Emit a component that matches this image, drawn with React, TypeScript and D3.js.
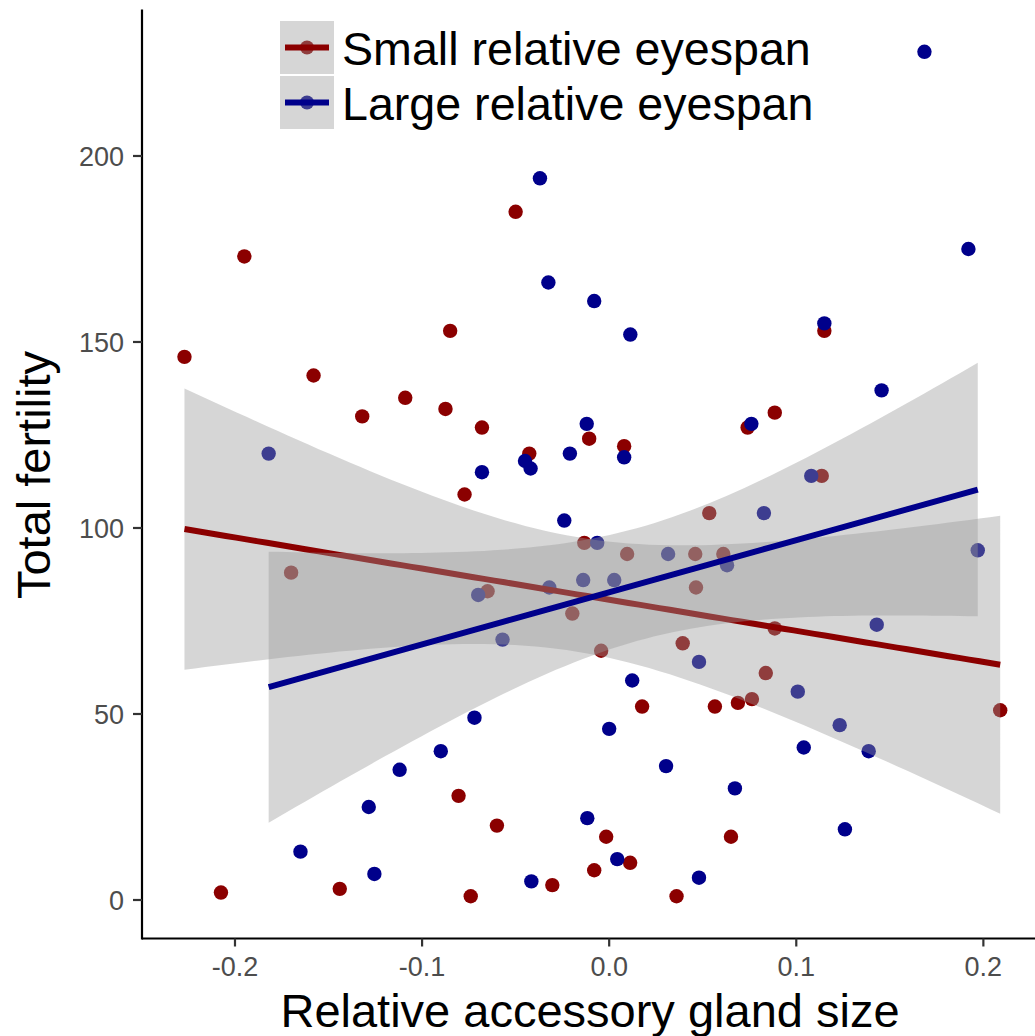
import React from 'react'
import * as d3 from 'd3'

// group labels and colours
const groups = ['Small relative eyespan', 'Large relative eyespan']
const colors = ['#8B0000', '#00008B']

// Small relative eyespan: gland size, fertility
const smallX = [-0.227, -0.195, -0.158, -0.132, -0.109, -0.0875, -0.085, -0.068, -0.05, -0.0427,
  -0.0107, 0.008, 0.115, 0.0885, 0.074, 0.1136, -0.0773, -0.0133, -0.17, -0.065,
  -0.0197, -0.0805, -0.06, -0.2075, -0.144, -0.074, -0.0304, -0.008, 0.0096, 0.046,
  0.061, 0.0535, 0.0464, -0.0043, 0.0885, 0.0393, 0.0837, 0.0176, 0.0565, 0.0688,
  0.0763, 0.209, -0.0016, 0.0651, 0.0112, 0.036]
const smallY = [146, 173, 141, 130, 135, 132, 153, 127, 185, 120,
  124, 122, 153, 131, 127, 114, 109, 96, 88, 83,
  77, 28, 20, 2, 3, 1, 4, 8, 93, 93,
  93, 104, 84, 67, 73, 69, 61, 52, 52, 53,
  54, 51, 17, 17, 10, 1]

// Large relative eyespan
const largeX = [-0.037, -0.0325, -0.008, -0.182, -0.045, -0.042, -0.068, -0.021, -0.012, 0.008,
  0.1685, 0.192, 0.0113, 0.115, 0.1456, 0.076, 0.108, -0.024, -0.07, -0.032,
  -0.0139, -0.057, -0.072, -0.09, -0.112, -0.1285, -0.165, -0.1255, -0.0416, -0.0117,
  -0.0064, 0.0315, 0.063, 0.0827, 0.0027, 0.197, 0.048, 0.143, 0.0123, 0.1008,
  0.0, 0.1232, 0.104, 0.1387, 0.0304, 0.0672, 0.126, 0.0043, 0.048]
const largeY = [194, 166, 161, 120, 118, 116, 115, 120, 128, 119,
  228, 175, 152, 155, 137, 128, 114, 102, 82, 84,
  86, 70, 49, 40, 35, 25, 13, 7, 5, 22,
  96, 93, 90, 104, 86, 94, 64, 74, 59, 56,
  46, 47, 41, 40, 36, 30, 19, 11, 6]

const xTicks = [-0.2, -0.1, 0, 0.1, 0.2]
const yTicks = [0, 50, 100, 150, 200]

const W = 1035
const H = 1036
const font = '"Liberation Sans", Arial, Helvetica, sans-serif'

// linear fit with 95% confidence band, like geom_smooth(method = "lm")
function lmFit(xs, ys) {
  const n = xs.length
  const mx = d3.mean(xs)
  const my = d3.mean(ys)
  let sxx = 0, sxy = 0
  xs.forEach((x, i) => { sxx += (x - mx) ** 2; sxy += (x - mx) * (ys[i] - my) })
  const b = sxy / sxx
  const a = my - b * mx
  const rss = d3.sum(xs, (x, i) => (ys[i] - a - b * x) ** 2)
  const s = Math.sqrt(rss / (n - 2))
  const t = 2.013
  const [lo, hi] = d3.extent(xs)
  return d3.range(80).map(k => {
    const x = lo + (hi - lo) * k / 79
    const fit = a + b * x
    const se = s * Math.sqrt(1 / n + (x - mx) ** 2 / sxx)
    return { x, fit, ymin: fit - t * se, ymax: fit + t * se }
  })
}

export default function App() {
  const x = d3.scaleLinear().domain([-0.2497, 0.2308]).range([142, 1041])
  const y = d3.scaleLinear().domain([-10.35, 239.35]).range([938.5, 9.6])

  const series = [
    { xs: smallX, ys: smallY },
    { xs: largeX, ys: largeY },
  ]
  const fits = series.map(s => lmFit(s.xs, s.ys))

  const area = d3.area().x(d => x(d.x)).y0(d => y(d.ymin)).y1(d => y(d.ymax))
  const line = d3.line().x(d => x(d.x)).y(d => y(d.fit))

  return (
    <svg width={W} height={H} style={{ position: 'absolute', left: 0, top: 0, background: '#fff' }}>
      {series.map((s, g) => s.xs.map((v, i) => (
        <circle key={`p${g}-${i}`} cx={x(v)} cy={y(s.ys[i])} r={7.2} fill={colors[g]} />
      )))}
      {fits.map((f, g) => (
        <g key={`f${g}`}>
          <path d={area(f)} fill="#999999" fillOpacity={0.4} />
          <path d={line(f)} fill="none" stroke={colors[g]} strokeWidth={6} />
        </g>
      ))}

      {/* axes */}
      <line x1={142} x2={W} y1={938.5} y2={938.5} stroke="#000" strokeWidth={2.2} />
      <line x1={142} x2={142} y1={9.6} y2={939.5} stroke="#000" strokeWidth={2.2} />
      {xTicks.map(t => (
        <g key={`xt${t}`}>
          <line x1={x(t)} x2={x(t)} y1={938.5} y2={946.5} stroke="#333" strokeWidth={2.2} />
          <text x={x(t)} y={976} textAnchor="middle" fontFamily={font} fontSize={27} fill="#4D4D4D">
            {t.toFixed(1)}
          </text>
        </g>
      ))}
      {yTicks.map(t => (
        <g key={`yt${t}`}>
          <line x1={133} x2={142} y1={y(t)} y2={y(t)} stroke="#333" strokeWidth={2.2} />
          <text x={124} y={y(t)} dy="0.36em" textAnchor="end" fontFamily={font} fontSize={27} fill="#4D4D4D">
            {t}
          </text>
        </g>
      ))}
      <text x={590} y={1027} textAnchor="middle" fontFamily={font} fontSize={47} fill="#000">
        Relative accessory gland size
      </text>
      <text transform={`translate(50,475) rotate(-90)`} textAnchor="middle" fontFamily={font} fontSize={47} fill="#000">
        Total fertility
      </text>

      {/* legend */}
      {groups.map((name, g) => {
        const top = 21 + g * 55
        const cy = top + 26.5
        return (
          <g key={`lg${g}`}>
            <rect x={280} y={top} width={54} height={53} fill="#fff" />
            <circle cx={307} cy={cy} r={7} fill={colors[g]} />
            <rect x={280} y={top} width={54} height={53} fill="#999999" fillOpacity={0.4} />
            <line x1={285} x2={329} y1={cy} y2={cy} stroke={colors[g]} strokeWidth={6} />
            <text x={342} y={top + 44} fontFamily={font} fontSize={46.6} fill="#000">{name}</text>
          </g>
        )
      })}
    </svg>
  )
}
